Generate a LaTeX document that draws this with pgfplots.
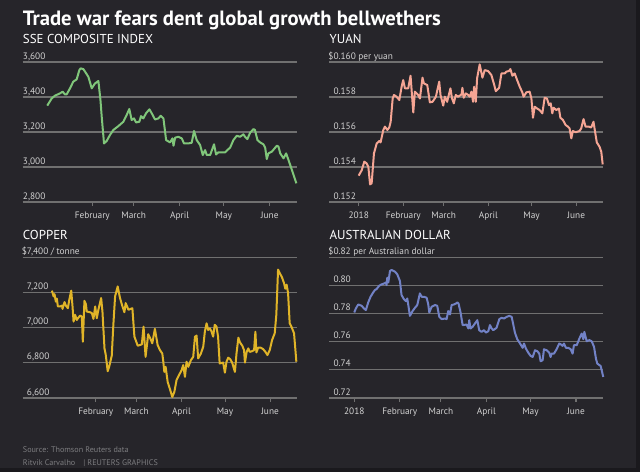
\documentclass[border=0pt]{standalone}
\usepackage{pgfplots}
\pgfplotsset{compat=1.18}
\usepackage{fontspec}
\setmainfont{PT Sans}
\setsansfont{PT Sans}
\definecolor{bg}{RGB}{38,37,42}
\definecolor{strip}{RGB}{26,25,29}
\definecolor{gridc}{RGB}{112,112,112}
\definecolor{lbl}{RGB}{210,210,210}
\definecolor{foot}{RGB}{125,125,128}
\definecolor{cgreen}{RGB}{128,198,122}
\definecolor{csalmon}{RGB}{245,165,148}
\definecolor{cgold}{RGB}{224,180,40}
\definecolor{cblue}{RGB}{114,130,198}
\pgfplotsset{
  panel/.style={
    scale only axis, clip=false, anchor=south west,
    axis line style={draw=none},
    axis x line*=bottom,
    ymajorgrids, grid style={gridc, line width=1.2pt},
    yticklabels={}, ytick style={draw=none},
    xtick align=outside, major tick length=3pt,
    xtick style={gridc, line width=0.8pt},
    xticklabel style={font=\fontsize{7}{8}\selectfont, text=lbl, yshift=-1pt},
    every axis plot/.append style={line width=1.5pt, line join=round},
  },
}
\tikzset{ylab/.style={anchor=base west, inner sep=0pt, yshift=2pt, text=lbl, font=\fontsize{7}{8}\selectfont}}
\begin{document}
\begin{tikzpicture}
\fill[bg] (0,0) rectangle (480pt,-354pt);
\fill[strip] (477pt,0) rectangle (480pt,-354pt);
\fill[strip] (0,-351pt) rectangle (480pt,-354pt);
\node[anchor=base west, inner sep=0pt, text=white, font=\fontsize{15.5}{17}\selectfont\bfseries] at (17pt,-18.75pt) {Trade war fears dent global growth bellwethers};
\node[anchor=base west, inner sep=0pt, text=white, font=\fontsize{9.7}{11}\selectfont] at (17pt,-32.5pt) {SSE COMPOSITE INDEX};
\node[anchor=base west, inner sep=0pt, text=white, font=\fontsize{9.7}{11}\selectfont] at (247pt,-32.5pt) {YUAN};
\node[anchor=base west, inner sep=0pt, text=white, font=\fontsize{9.7}{11}\selectfont] at (17pt,-179.3pt) {COPPER};
\node[anchor=base west, inner sep=0pt, text=white, font=\fontsize{9.7}{11}\selectfont] at (247pt,-179.3pt) {AUSTRALIAN DOLLAR};
\node[anchor=base west, inner sep=0pt, text=foot, font=\fontsize{6.1}{7.5}\selectfont] at (17pt,-339.5pt) {Source: Thomson Reuters data};
\node[anchor=base west, inner sep=0pt, text=foot, font=\fontsize{6.1}{7.5}\selectfont] at (17pt,-348.8pt) {Ritvik Carvalho\hspace{6pt}| REUTERS GRAPHICS};

% Panel 1 SSE
\begin{axis}[panel, at={(17.03pt,-151.28pt)}, width=205.35pt, height=105pt,
  xmin=-16.1, xmax=169.1, ymin=2800, ymax=3600, ytick={2800,3000,3200,3400,3600},
  xtick={31,59,90,120,151}, xticklabels={February,March,April,May,June}]
\addplot[cgreen] table {
0.5 3349
3.5 3390
5.7 3406
9.1 3419
10.9 3429
12.5 3413
13.6 3413
15.9 3448
18.1 3486
20.4 3499
22.2 3552
23.1 3562
24.9 3558
26.1 3543
28.3 3514
30.6 3448
32.8 3476
35.1 3490
36.5 3380
37.3 3290
38.9 3133
40.7 3147
42.9 3181
45.2 3210
48.6 3232
52.0 3257
54.2 3295
56.0 3330
57.6 3267
59.2 3276
60.6 3253
62.8 3257
63.9 3289
65.5 3276
67.3 3305
69.6 3328
71.2 3305
73.4 3270
75.7 3276
77.2 3291
79.1 3276
80.9 3152
83.6 3139
85.2 3162
85.9 3120
87.0 3166
89.2 3171
91.5 3162
93.0 3133
96.0 3133
98.2 3137
99.8 3204
101.6 3152
103.9 3124
105.7 3067
107.3 3095
108.4 3067
110.7 3067
113.3 3128
114.7 3070
116.2 3082
118.5 3082
120.8 3082
122.3 3095
124.2 3109
126.4 3152
128.7 3177
130.9 3171
133.2 3185
134.3 3171
135.9 3158
137.7 3194
140.0 3215
141.0 3210
142.7 3152
144.5 3139
146.7 3128
147.9 3109
149.0 3044
150.1 3076
152.4 3086
155.8 3120
156.9 3115
158.1 3076
160.3 3048
162.1 3076
163.7 3038
166.0 2981
169.0 2905
};
\node[ylab] at (axis cs:-16.1,2800) {2,800};
\node[ylab] at (axis cs:-16.1,3000) {3,000};
\node[ylab] at (axis cs:-16.1,3200) {3,200};
\node[ylab] at (axis cs:-16.1,3400) {3,400};
\node[ylab] at (axis cs:-16.1,3600) {3,600};
\end{axis}

% Panel 2 Yuan
\begin{axis}[panel, at={(246.98pt,-151.28pt)}, width=205.05pt, height=105pt,
  xmin=-20.4, xmax=169.4, ymin=0.152, ymax=0.160, ytick={0.152,0.154,0.156,0.158,0.160},
  xtick={0,31,59,90,120,151}, xticklabels={2018,February,March,April,May,June}]
\addplot[csalmon] table {
0.0 0.15349
2.1 0.15380
3.9 0.15429
5.5 0.15419
6.7 0.15400
7.9 0.15299
9.0 0.15305
10.6 0.15476
12.5 0.15533
14.3 0.15547
15.2 0.15539
17.1 0.15610
18.2 0.15629
19.9 0.15610
21.2 0.15624
22.2 0.15657
23.6 0.15790
24.5 0.15810
26.3 0.15800
28.2 0.15781
29.8 0.15857
30.9 0.15895
32.1 0.15848
34.4 0.15848
36.0 0.15920
37.9 0.15710
39.0 0.15829
41.3 0.15810
42.5 0.15790
44.3 0.15909
45.3 0.15876
47.6 0.15867
49.4 0.15768
51.3 0.15771
53.6 0.15800
55.9 0.15886
56.8 0.15810
58.7 0.15749
59.8 0.15800
61.4 0.15771
63.7 0.15848
64.7 0.15794
66.0 0.15762
67.4 0.15810
69.0 0.15800
71.4 0.15813
72.0 0.15851
72.9 0.15794
74.4 0.15819
76.0 0.15810
77.1 0.15800
78.3 0.15829
79.4 0.15771
80.1 0.15857
81.3 0.15771
82.2 0.15905
84.0 0.15985
85.9 0.15909
87.5 0.15952
89.8 0.15947
92.1 0.15924
93.8 0.15876
95.2 0.15832
97.5 0.15851
99.1 0.15933
101.4 0.15933
102.5 0.15943
104.4 0.15947
105.3 0.15958
106.7 0.15920
108.3 0.15933
110.0 0.15895
111.8 0.15857
113.6 0.15825
114.5 0.15800
116.4 0.15825
118.7 0.15829
119.9 0.15790
121.0 0.15680
122.2 0.15743
123.8 0.15733
125.6 0.15724
127.5 0.15705
129.1 0.15794
130.7 0.15790
132.1 0.15752
133.3 0.15762
134.4 0.15705
135.3 0.15737
137.2 0.15724
139.0 0.15733
140.0 0.15680
141.8 0.15667
143.7 0.15638
145.3 0.15629
146.4 0.15619
147.6 0.15562
148.7 0.15604
150.6 0.15597
153.3 0.15604
154.5 0.15619
156.1 0.15672
157.5 0.15629
159.8 0.15629
161.4 0.15624
163.0 0.15657
164.1 0.15600
165.3 0.15539
167.2 0.15514
168.4 0.15486
169.4 0.15413
};
\node[ylab, xshift=3pt] at (axis cs:-20.4,0.152) {0.152};
\node[ylab, xshift=3pt] at (axis cs:-20.4,0.154) {0.154};
\node[ylab, xshift=3pt] at (axis cs:-20.4,0.156) {0.156};
\node[ylab, xshift=3pt] at (axis cs:-20.4,0.158) {0.158};
\node[ylab, xshift=3pt] at (axis cs:-20.4,0.160) {\llap{\$}0.160 per yuan};
\end{axis}

% Panel 3 Copper
\begin{axis}[panel, at={(17.03pt,-298.28pt)}, width=205.35pt, height=105.3pt,
  xmin=-19.3, xmax=169.2, ymin=6600, ymax=7400, ytick={6600,6800,7000,7200,7400},
  xtick={31,59,90,120,151}, xticklabels={February,March,April,May,June}]
\addplot[cgold] table {
0.8 7210
2.0 7177
2.6 7190
3.5 7148
4.2 7165
4.9 7120
6.5 7120
8.0 7125
8.1 7106
9.5 7145
10.4 7125
11.8 7110
12.7 7155
14.1 7210
15.0 7120
15.7 7034
16.8 7072
17.9 7043
19.1 7057
20.3 7068
21.4 7062
22.1 6919
23.2 7152
24.2 7133
24.8 7091
27.1 7087
28.3 7082
29.4 7049
30.6 7120
31.7 7053
32.8 7101
34.7 7168
35.6 7091
37.0 6881
37.9 6843
39.2 6751
40.2 6776
42.0 6839
43.1 7015
44.3 7177
46.1 7234
47.7 7168
48.9 7133
50.7 7087
51.6 7139
53.5 7101
56.2 7110
57.6 6948
59.9 6896
62.7 6904
63.9 7005
65.3 6833
67.1 6962
69.0 6929
69.9 6910
71.7 6992
73.6 6900
75.2 6871
76.8 6852
77.5 6805
78.2 6747
79.1 6776
80.5 6690
82.1 6648
83.7 6604
85.1 6633
86.6 6700
88.9 6738
90.1 6757
91.2 6786
92.4 6719
93.5 6805
94.7 6776
96.5 6814
98.1 6833
99.3 6948
100.4 6954
101.5 6824
103.4 6852
105.0 6891
106.1 6977
107.3 7024
108.4 6986
109.6 6995
110.7 6977
111.8 6948
112.9 7015
114.1 7005
115.2 6948
116.3 6795
118.7 6800
119.9 6743
121.0 6805
122.2 6828
123.5 6820
124.9 6800
126.8 6747
127.9 6853
129.2 6942
130.3 6915
131.9 6896
133.1 6871
133.7 6800
134.9 6861
136.0 6881
137.0 6861
138.6 6865
140.0 6871
140.9 6976
141.6 6858
142.8 6885
144.6 6885
146.2 6877
147.8 6861
149.2 6843
150.8 6872
152.4 6929
154.2 6967
155.3 7072
156.5 7330
157.6 7311
159.2 7286
160.6 7253
161.5 7221
162.4 7244
163.4 7196
164.5 7024
165.7 7005
167.5 6967
169.1 6805
};
\node[ylab, xshift=3pt] at (axis cs:-19.3,6600) {6,600};
\node[ylab, xshift=3pt] at (axis cs:-19.3,6800) {6,800};
\node[ylab, xshift=3pt] at (axis cs:-19.3,7000) {7,000};
\node[ylab, xshift=3pt] at (axis cs:-19.3,7200) {7,200};
\node[ylab, xshift=3pt] at (axis cs:-19.3,7400) {\llap{\$}7,400 / tonne};
\end{axis}

% Panel 4 AUD
\begin{axis}[panel, at={(246.98pt,-298.28pt)}, width=205.05pt, height=105.3pt,
  xmin=-17.0, xmax=169.2, ymin=0.72, ymax=0.82, ytick={0.72,0.74,0.76,0.78,0.80,0.82},
  xtick={0,31,59,90,120,151}, xticklabels={2018,February,March,April,May,June}]
\addplot[cblue] table {
0.0 0.7807
1.1 0.7836
2.7 0.7864
5.0 0.7855
6.6 0.7836
7.9 0.7824
9.5 0.7879
11.1 0.7919
12.9 0.7950
14.1 0.7967
15.2 0.7974
17.0 0.7998
18.6 0.8007
20.4 0.8014
21.6 0.8021
22.0 0.8002
22.5 0.8055
23.2 0.8021
24.3 0.8102
25.4 0.8110
27.7 0.8098
29.3 0.8079
31.1 0.8031
32.2 0.7931
33.8 0.7902
35.2 0.7888
36.1 0.7907
36.8 0.7860
37.9 0.7783
39.7 0.7817
41.3 0.7840
42.9 0.7860
44.7 0.7943
45.9 0.7919
47.5 0.7919
49.3 0.7912
50.4 0.7864
51.1 0.7807
52.7 0.7848
55.0 0.7860
56.5 0.7855
57.9 0.7776
59.5 0.7760
61.8 0.7764
62.9 0.7760
64.0 0.7817
65.2 0.7793
66.3 0.7860
67.9 0.7864
69.3 0.7871
70.2 0.7879
71.0 0.7871
72.4 0.7807
73.8 0.7717
76.5 0.7721
77.7 0.7693
78.3 0.7752
79.2 0.7693
80.6 0.7705
82.2 0.7729
83.8 0.7752
85.1 0.7681
86.7 0.7669
88.3 0.7681
89.7 0.7664
91.3 0.7674
92.4 0.7717
93.6 0.7693
94.7 0.7681
96.9 0.7698
98.8 0.7760
100.4 0.7769
102.0 0.7764
103.8 0.7776
105.6 0.7783
107.2 0.7776
108.3 0.7721
109.4 0.7664
111.0 0.7617
112.9 0.7586
114.7 0.7555
115.6 0.7586
116.9 0.7550
118.5 0.7521
120.1 0.7498
121.5 0.7490
123.1 0.7538
124.7 0.7531
126.0 0.7514
126.9 0.7460
128.3 0.7467
129.2 0.7545
131.0 0.7538
132.8 0.7521
133.7 0.7490
134.4 0.7514
136.0 0.7514
137.8 0.7545
139.6 0.7586
140.8 0.7579
141.9 0.7569
142.8 0.7586
144.2 0.7555
145.8 0.7555
147.4 0.7545
148.7 0.7514
149.6 0.7574
151.5 0.7574
153.3 0.7621
154.9 0.7657
156.0 0.7617
156.7 0.7669
158.3 0.7602
160.1 0.7610
161.7 0.7602
163.3 0.7562
164.6 0.7479
165.5 0.7443
167.8 0.7426
169.6 0.7348
};
\node[ylab, xshift=3pt] at (axis cs:-17,0.72) {0.72};
\node[ylab, xshift=3pt] at (axis cs:-17,0.74) {0.74};
\node[ylab, xshift=3pt] at (axis cs:-17,0.76) {0.76};
\node[ylab, xshift=3pt] at (axis cs:-17,0.78) {0.78};
\node[ylab, xshift=3pt] at (axis cs:-17,0.80) {0.80};
\node[ylab, xshift=3pt] at (axis cs:-17,0.82) {\llap{\$}0.82 per Australian dollar};
\end{axis}
\end{tikzpicture}
\end{document}
